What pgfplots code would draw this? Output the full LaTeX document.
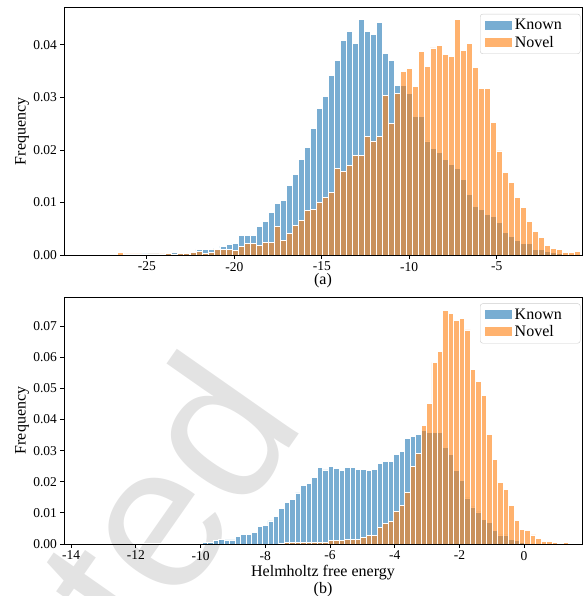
\documentclass[border=0pt]{standalone}
\usepackage{fontspec}
\setmainfont{Liberation Serif}
\newfontfamily\wmfont{Liberation Sans}
\usepackage{pgfplots}
\usepackage{pgfplotstable}
\pgfplotsset{compat=1.18}

\definecolor{tabblue}{HTML}{1F77B4}
\definecolor{taborange}{HTML}{FF7F0E}

% energy histograms, (a) top panel: bin centre, Known, Novel
\pgfplotstableread{
x known novel
-27.862 0.0001 0.0001
-27.519 0.0001 0.0000
-27.175 0.0001 0.0001
-26.832 0.0000 0.0001
-26.488 0.0001 0.0004
-26.145 0.0001 0.0002
-25.801 0.0001 0.0002
-25.458 0.0001 0.0002
-25.114 0.0002 0.0001
-24.771 0.0002 0.0002
-24.427 0.0002 0.0002
-24.084 0.0003 0.0002
-23.740 0.0003 0.0003
-23.397 0.0004 0.0002
-23.053 0.0004 0.0003
-22.710 0.0005 0.0003
-22.366 0.0006 0.0004
-22.023 0.0010 0.0006
-21.679 0.0011 0.0003
-21.336 0.0011 0.0005
-20.992 0.0013 0.0011
-20.649 0.0017 0.0011
-20.305 0.0020 0.0011
-19.962 0.0022 0.0008
-19.618 0.0037 0.0017
-19.275 0.0037 0.0022
-18.931 0.0038 0.0022
-18.588 0.0055 0.0019
-18.244 0.0063 0.0024
-17.901 0.0081 0.0023
-17.557 0.0098 0.0055
-17.214 0.0104 0.0027
-16.870 0.0133 0.0041
-16.527 0.0154 0.0057
-16.183 0.0182 0.0065
-15.840 0.0204 0.0084
-15.496 0.0240 0.0087
-15.153 0.0279 0.0100
-14.809 0.0301 0.0109
-14.466 0.0342 0.0119
-14.122 0.0370 0.0164
-13.779 0.0408 0.0159
-13.435 0.0425 0.0170
-13.092 0.0403 0.0190
-12.748 0.0449 0.0190
-12.405 0.0425 0.0225
-12.061 0.0420 0.0217
-11.718 0.0442 0.0225
-11.374 0.0383 0.0303
-11.031 0.0370 0.0250
-10.687 0.0323 0.0308
-10.344 0.0322 0.0350
-10.000 0.0307 0.0355
-9.657 0.0263 0.0321
-9.313 0.0263 0.0388
-8.970 0.0217 0.0358
-8.626 0.0203 0.0394
-8.283 0.0195 0.0399
-7.939 0.0181 0.0381
-7.596 0.0173 0.0378
-7.252 0.0164 0.0448
-6.909 0.0143 0.0389
-6.565 0.0116 0.0403
-6.222 0.0093 0.0356
-5.878 0.0086 0.0316
-5.535 0.0078 0.0316
-5.191 0.0073 0.0253
-4.848 0.0062 0.0198
-4.504 0.0043 0.0157
-4.161 0.0036 0.0138
-3.817 0.0027 0.0110
-3.474 0.0022 0.0091
-3.130 0.0022 0.0063
-2.787 0.0011 0.0044
-2.443 0.0011 0.0034
-2.100 0.0006 0.0019
-1.756 0.0004 0.0013
-1.413 0.0003 0.0011
-1.069 0.0002 0.0005
-0.726 0.0001 0.0004
-0.382 0.0001 0.0006
}\toptable

% (b) bottom panel: Helmholtz free energy
\pgfplotstableread{
x known novel
-11.719 0.0001 0
-11.550 0.0001 0
-11.381 0.0001 0
-11.212 0.0001 0
-11.043 0.0001 0
-10.874 0.0001 0
-10.705 0.0001 0
-10.536 0.0001 0
-10.367 0.0002 0
-10.198 0.0002 0
-10.029 0.0003 0
-9.860 0.0004 0
-9.691 0.0006 0
-9.522 0.0010 0
-9.353 0.0015 0
-9.184 0.0013 0
-9.015 0.0013 0
-8.846 0.0023 0
-8.677 0.0031 0
-8.508 0.0031 0
-8.339 0.0036 0
-8.170 0.0056 0
-8.001 0.0060 0
-7.832 0.0074 0
-7.663 0.0087 0
-7.494 0.0114 0.0001
-7.325 0.0133 0.0004
-7.156 0.0143 0.0005
-6.987 0.0164 0.0004
-6.818 0.0188 0.0005
-6.649 0.0196 0.0005
-6.480 0.0215 0.0004
-6.311 0.0246 0.0005
-6.142 0.0238 0.0005
-5.973 0.0249 0.0010
-5.804 0.0244 0.0010
-5.635 0.0236 0.0011
-5.466 0.0246 0.0016
-5.297 0.0245 0.0014
-5.128 0.0241 0.0016
-4.959 0.0241 0.0022
-4.790 0.0236 0.0026
-4.621 0.0241 0.0027
-4.452 0.0259 0.0052
-4.283 0.0266 0.0067
-4.114 0.0266 0.0073
-3.945 0.0288 0.0106
-3.776 0.0297 0.0124
-3.607 0.0338 0.0167
-3.438 0.0347 0.0250
-3.269 0.0351 0.0290
-3.100 0.0364 0.0380
-2.931 0.0360 0.0452
-2.762 0.0360 0.0584
-2.593 0.0357 0.0618
-2.424 0.0311 0.0750
-2.255 0.0288 0.0741
-2.086 0.0236 0.0720
-1.917 0.0204 0.0726
-1.748 0.0148 0.0688
-1.579 0.0119 0.0561
-1.410 0.0103 0.0521
-1.241 0.0080 0.0478
-1.072 0.0069 0.0353
-0.903 0.0043 0.0273
-0.734 0.0029 0.0197
-0.565 0.0029 0.0176
-0.396 0.0016 0.0124
-0.227 0.0011 0.0077
-0.058 0.0005 0.0047
0.111 0.0002 0.0045
0.280 0.0001 0.0029
0.449 0 0.0018
0.618 0 0.0008
0.787 0 0.0007
0.956 0 0.0005
1.125 0 0.0003
1.294 0 0.0004
1.463 0 0.0002
}\bottable

\pgfplotsset{
  histaxis/.style={
    scale only axis, width=518pt,
    axis on top,
    axis line style={line width=0.9pt},
    tick align=outside, xtick pos=lower, ytick pos=left,
    major tick length=3.5pt,
    tick style={line width=0.8pt, black},
    ymin=0,
    /pgf/number format/assume math mode=true,
    tick label style={font=\fontsize{13.5}{15}\selectfont},
    yticklabel style={/pgf/number format/.cd, fixed, fixed zerofill, precision=2},
    scaled y ticks=false,
    ylabel={Frequency},
    every axis y label/.style={at={(axis description cs:-0.081,0.5)}, rotate=90, anchor=center,
      font=\fontsize{16}{18}\selectfont},
    legend style={at={(0.997,0.974)}, anchor=north east, draw=black!20,
      rounded corners=2.5pt, fill=white, font=\fontsize{16}{18}\selectfont,
      inner xsep=5pt, inner ysep=2.5pt, row sep=0pt,
      nodes={inner xsep=2.5pt, inner ysep=2.5pt, text width=58pt, align=left}},
    legend cell align=left,
  },
  hbar/.style={ybar, bar shift=0pt, bar width=#1, fill opacity=0.6, draw=white, line width=0.9pt},
}

\begin{document}
\begin{tikzpicture}
% watermark behind the panels
\node[rotate=55, anchor=base east, text=black!11, font=\wmfont\fontsize{205}{205}\selectfont, inner sep=0pt]
  at (243pt,-415pt) {ted};

\begin{axis}[histaxis,
  at={(0pt,0pt)}, anchor=north west, height=247.5pt,
  xmin=-29.74, xmax=-0.12, ymax=0.0471,
  xtick={-25,-20,-15,-10,-5},
  ytick={0,0.01,0.02,0.03,0.04},
  xlabel={(a)},
  every axis x label/.style={at={(axis description cs:0.5,-0.105)}, anchor=center,
    font=\fontsize{16}{18}\selectfont},
]
\addplot[hbar=0.3435, fill=tabblue,
  legend image code/.code={\fill[tabblue, fill opacity=0.6, draw=none, sharp corners] (0pt,-4.5pt) rectangle (27pt,4.5pt);}]
  table[x=x, y=known] {\toptable};
\addplot[hbar=0.3435, fill=taborange,
  legend image code/.code={\fill[taborange, fill opacity=0.6, draw=none, sharp corners] (0pt,-4.5pt) rectangle (27pt,4.5pt);}]
  table[x=x, y=novel] {\toptable};
\legend{Known, Novel}
\end{axis}

\begin{axis}[histaxis,
  at={(0pt,-289.5pt)}, anchor=north west, height=247pt,
  xmin=-14.22, xmax=1.79, ymax=0.0794,
  xtick={-14,-12,-10,-8,-6,-4,-2,0},
  ytick={0,0.01,0.02,0.03,0.04,0.05,0.06,0.07},
  xlabel={Helmholtz free energy\\(b)},
  every axis x label/.style={at={(axis description cs:0.5,-0.152)}, anchor=center, align=center,
    font=\fontsize{16}{17}\selectfont},
]
\addplot[hbar=0.169, fill=tabblue,
  legend image code/.code={\fill[tabblue, fill opacity=0.6, draw=none, sharp corners] (0pt,-4.5pt) rectangle (27pt,4.5pt);}]
  table[x=x, y=known] {\bottable};
\addplot[hbar=0.169, fill=taborange,
  legend image code/.code={\fill[taborange, fill opacity=0.6, draw=none, sharp corners] (0pt,-4.5pt) rectangle (27pt,4.5pt);}]
  table[x=x, y=novel] {\bottable};
\legend{Known, Novel}
\end{axis}

\pgfresetboundingbox
\path[use as bounding box] (-64pt,7.5pt) rectangle (521pt,-588.5pt);
\end{tikzpicture}
\end{document}
